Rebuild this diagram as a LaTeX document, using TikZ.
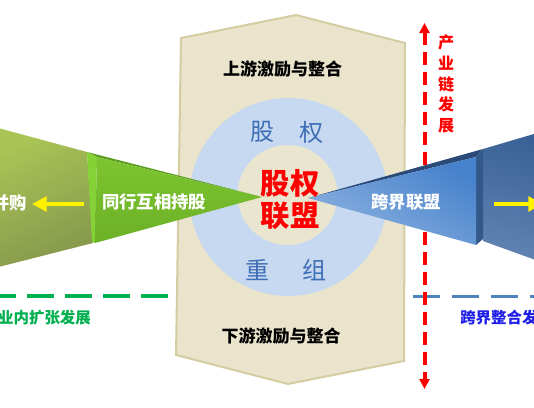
\documentclass[tikz,border=0pt]{standalone}
\usepackage{fontspec}
\newfontfamily\cjk{Noto Sans CJK SC}
\usetikzlibrary{arrows.meta,positioning,calc}
\definecolor{panelfill}{HTML}{E9E4CB}
\definecolor{paneledge}{HTML}{D4CCA2}
\definecolor{ringblue}{HTML}{C6D9F1}
\definecolor{hubfill}{HTML}{EAE5CF}
\definecolor{ringtext}{HTML}{3E6EB5}
\definecolor{inblue}{HTML}{1F1FE8}
\definecolor{ingreen}{HTML}{00B050}
\definecolor{dashblue}{HTML}{4F81BD}
\tikzset{
  stagelabel/.style={font=\cjk\bfseries\fontsize{12.75}{15}\selectfont, text=black, inner sep=0pt},
  ringlabel/.style={font=\cjk\fontsize{18}{20}\selectfont, text=ringtext, inner sep=0pt},
  hublabel/.style={font=\cjk\bfseries\fontsize{22}{24}\selectfont, text=red, inner sep=0pt},
  conelabel/.style={font=\cjk\bfseries\fontsize{13}{15}\selectfont, text=white, inner sep=0pt},
  trendlabel/.style={font=\cjk\bfseries\fontsize{11.6}{14}\selectfont, inner sep=0pt},
  yarrow/.style={-{Triangle[length=11pt,width=11pt]}, line width=2.6pt, draw=yellow},
  chainline/.style={{Triangle[length=7.5pt,width=7.5pt]}-{Triangle[length=7.5pt,width=7.5pt]}, line width=3pt, draw=red, dash pattern=on 9.75pt off 5.25pt},
  trendline/.style={line width=2.6pt}
}
\begin{document}
\begin{tikzpicture}[x=0.75pt, y=-0.75pt]
  \useasboundingbox (0,0) rectangle (534,407);
  \clip (0,0) rectangle (534,407);

  % central panel
  \draw[fill=panelfill, draw=paneledge, line width=1.5pt]
    (181,38) -- (296,15) -- (405,43) -- (404,361) -- (288,384) -- (176,355) -- cycle;
  \fill[ringblue] (288.5,197) circle (99);
  \fill[hubfill] (287.5,195) circle (50);

  % trend lines
  \coordinate (gstart) at (-11,296);
  \coordinate (gend) at (169,296);
  \coordinate (bstart) at (413,296);
  \coordinate (bend) at (545,296);
  \draw[trendline, draw=ingreen, dash pattern=on 20.25pt off 8.25pt] (gstart) -- (gend);
  \draw[trendline, draw=dashblue, line width=2.25pt, dash pattern=on 20.25pt off 9pt] (bstart) -- (bend);
  \node[trendlabel, text=ingreen] (inner) at (44.5,318) {业内扩张发展};
  \node[trendlabel, text=inblue, anchor=west] (outer) at (460,318) {跨界整合发展};

  % industry chain
  \coordinate (chaintop) at (424.5,23);
  \coordinate (chainbot) at (424.5,389);
  \draw[chainline] (chaintop) -- (chainbot);
  \node[font=\cjk\bfseries\fontsize{12}{15.4}\selectfont, text=red, align=center, inner sep=0pt] (chain) at (446,84) {产\\业\\链\\发\\展};

  % left cone
  \shade[shading=axis, top color={rgb,255:red,170;green,196;blue,86}, bottom color={rgb,255:red,134;green,152;blue,76}, shading angle=25]
    (0,128.5) -- (87,152) -- (93,243) -- (0,266.6) -- cycle;
  \fill[color={rgb,255:red,91;green,155;blue,31}] (87,152) -- (262,197) -- (97,157) -- cycle;
  \fill[color={rgb,255:red,132;green,210;blue,54}] (87,152) -- (97,157) -- (95,243) -- (92,241) -- cycle;
  \shade[shading=axis, top color={rgb,255:red,125;green,197;blue,48}, bottom color={rgb,255:red,107;green,176;blue,38}]
    (97,157) -- (262,197) -- (95,243) -- cycle;

  % right cone
  \shade[shading=axis, top color={rgb,255:red,58;green,98;blue,150}, bottom color={rgb,255:red,96;green,131;blue,178}, shading angle=-15]
    (483,149) -- (544,131) -- (544,263) -- (483,241) -- cycle;
  \fill[color={rgb,255:red,42;green,74;blue,120}] (308,198) -- (483,149) -- (476,157) -- cycle;
  \fill[color={rgb,255:red,50;green,89;blue,138}] (476,157) -- (483,149) -- (483,239) -- (476,245) -- cycle;
  \shade[shading=axis, top color={rgb,255:red,72;green,130;blue,204}, bottom color={rgb,255:red,140;green,178;blue,224}, shading angle=-30]
    (308,198) -- (476,157) -- (476,245) -- cycle;

  % ring and hub texts
  \node[ringlabel] (ringA) at (262,132) {股};
  \node[ringlabel] (ringB) at (311,132) {权};
  \node[ringlabel] (ringC) at (257,270) {重};
  \node[ringlabel] (ringD) at (314,270) {组};
  \node[hublabel] (hubtop) at (290,183) {股权};
  \node[hublabel, below=3pt of hubtop] (hubbot) {联盟};

  \node[stagelabel] (upstream) at (282.5,69) {上游激励与整合};
  \node[stagelabel] (downstream) at (281,336) {下游激励与整合};

  % cone texts and arrows
  \node[conelabel] (peer) at (154,202) {同行互相持股};
  \node[conelabel] (merge) at (10,203) {并购};
  \node[conelabel] (cross) at (406,202) {跨界联盟};
  \coordinate (ltail) at (84,204);
  \coordinate (ltip) at (32,204);
  \coordinate (rtail) at (494,204);
  \coordinate (rtip) at (543,204);
  \draw[yarrow] (ltail) -- (ltip);
  \draw[yarrow] (rtail) -- (rtip);
\end{tikzpicture}
\end{document}
